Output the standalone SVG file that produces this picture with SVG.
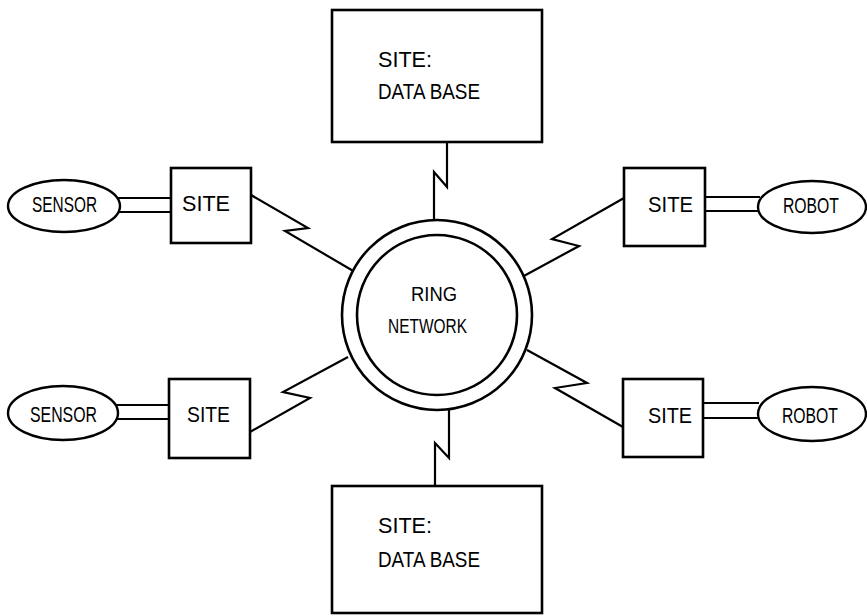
<svg xmlns="http://www.w3.org/2000/svg" width="867" height="616" viewBox="0 0 867 616">
<style>
.box{fill:#fff;stroke:#000;stroke-width:2.6}
.ell{fill:#fff;stroke:#000;stroke-width:2.4}
.ln{fill:none;stroke:#000;stroke-width:2.2;stroke-linejoin:miter}
.t{font-family:"Liberation Sans",Arial,sans-serif;font-size:22px;fill:#000}
.r{font-size:20px}
</style>
<rect width="867" height="616" fill="#fff"/>
<g id="connectors">
<polyline class="ln" points="447,142 447,187 434,172 434,221"/>
<polyline class="ln" points="449,410 449,458 435,443 435,486"/>
<polyline class="ln" points="251,195 308,228 285,231 355,272"/>
<polyline class="ln" points="624,198 552,239 579,246 522,277"/>
<polyline class="ln" points="250,432 310,398 283,392 348,357"/>
<polyline class="ln" points="527,350 587,383 555,388 623,427"/>
<line class="ln" x1="118" y1="198" x2="171" y2="198"/>
<line class="ln" x1="118" y1="212" x2="171" y2="212"/>
<line class="ln" x1="116" y1="405" x2="169" y2="405"/>
<line class="ln" x1="116" y1="419" x2="169" y2="419"/>
<line class="ln" x1="705" y1="197" x2="760" y2="197"/>
<line class="ln" x1="705" y1="211" x2="760" y2="211"/>
<line class="ln" x1="703" y1="403" x2="759" y2="403"/>
<line class="ln" x1="703" y1="418" x2="759" y2="418"/>
</g>
<g id="ring">
<circle cx="437" cy="315" r="95" fill="#fff" stroke="#000" stroke-width="2.6"/>
<circle cx="437" cy="315" r="80" fill="#fff" stroke="#000" stroke-width="2.6"/>
<text class="t r" x="411" y="301" textLength="46" lengthAdjust="spacingAndGlyphs">RING</text>
<text class="t r" x="388" y="333" textLength="79" lengthAdjust="spacingAndGlyphs">NETWORK</text>
</g>
<g id="db-top">
<rect class="box" x="332" y="10" width="210" height="132"/>
<text class="t" x="378" y="67" textLength="54" lengthAdjust="spacingAndGlyphs">SITE:</text>
<text class="t" x="378" y="99" textLength="102" lengthAdjust="spacingAndGlyphs">DATA BASE</text>
</g>
<g id="db-bottom">
<rect class="box" x="332" y="486" width="210" height="127"/>
<text class="t" x="378" y="533" textLength="54" lengthAdjust="spacingAndGlyphs">SITE:</text>
<text class="t" x="378" y="567" textLength="102" lengthAdjust="spacingAndGlyphs">DATA BASE</text>
</g>
<g id="site-ul">
<rect class="box" x="171" y="168" width="80" height="75"/>
<text class="t" x="182" y="211" textLength="48" lengthAdjust="spacingAndGlyphs">SITE</text>
</g>
<g id="sensor-ul">
<ellipse class="ell" cx="64" cy="206" rx="56" ry="26"/>
<text class="t" x="32" y="212" textLength="65" lengthAdjust="spacingAndGlyphs">SENSOR</text>
</g>
<g id="site-ll">
<rect class="box" x="169" y="379" width="81" height="79"/>
<text class="t" x="187" y="422" textLength="43" lengthAdjust="spacingAndGlyphs">SITE</text>
</g>
<g id="sensor-ll">
<ellipse class="ell" cx="63" cy="413" rx="55" ry="27"/>
<text class="t" x="30" y="422" textLength="67" lengthAdjust="spacingAndGlyphs">SENSOR</text>
</g>
<g id="site-ur">
<rect class="box" x="624" y="168" width="81" height="78"/>
<text class="t" x="648" y="212" textLength="45" lengthAdjust="spacingAndGlyphs">SITE</text>
</g>
<g id="robot-ur">
<ellipse class="ell" cx="812" cy="207" rx="54" ry="26"/>
<text class="t" x="783" y="213" textLength="56" lengthAdjust="spacingAndGlyphs">ROBOT</text>
</g>
<g id="site-lr">
<rect class="box" x="623" y="379" width="80" height="78"/>
<text class="t" x="648" y="423" textLength="44" lengthAdjust="spacingAndGlyphs">SITE</text>
</g>
<g id="robot-lr">
<ellipse class="ell" cx="812" cy="414" rx="54" ry="27"/>
<text class="t" x="782" y="423" textLength="56" lengthAdjust="spacingAndGlyphs">ROBOT</text>
</g>
</svg>
